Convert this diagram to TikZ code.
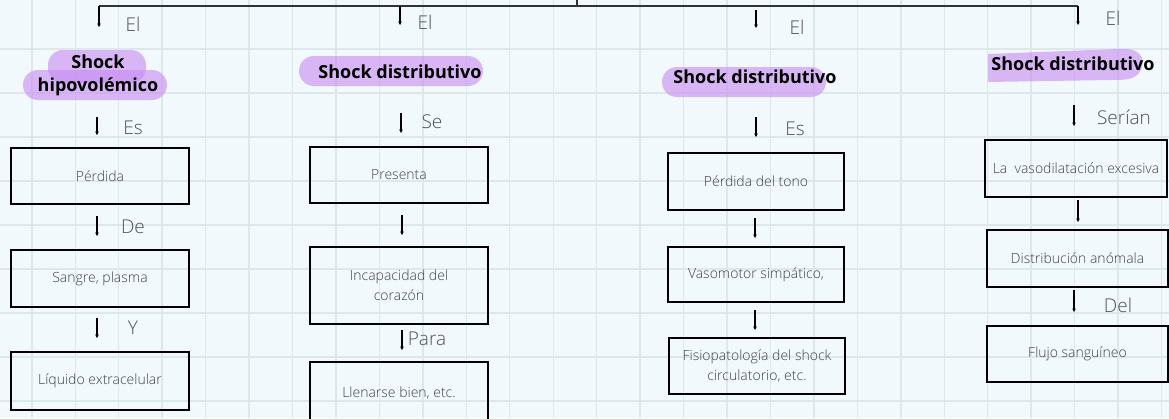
\documentclass[tikz,border=0pt]{standalone}
\usepackage{fontspec}
\setmainfont{Open Sans}[UprightFont=* Light, BoldFont=* Bold]
\usetikzlibrary{arrows.meta}
\definecolor{bg}{HTML}{F2F9FC}
\definecolor{gridc}{HTML}{DDE8ED}
\definecolor{hl}{HTML}{C98CF2}
\definecolor{txt}{HTML}{404040}
\definecolor{ltxt}{HTML}{505050}
\tikzset{
  boxn/.style={draw=black, line width=2.6pt, minimum width=178pt, minimum height=56pt, inner sep=2pt, align=center, text=txt, font=\fontsize{14}{20}\selectfont},
  lbl/.style={text=ltxt, font=\fontsize{19}{22}\selectfont, inner sep=0pt},
  head/.style={font=\fontsize{18}{23}\selectfont\bfseries, text=black, align=center, inner sep=0pt},
  arr/.style={line width=1.3pt, -{Stealth[length=3.5pt,width=3.5pt]}},
  hlfill/.style={fill=hl, fill opacity=0.62, draw=none},
  tline/.style={line width=1.3pt, draw=black!80}
}
\begin{document}
\begin{tikzpicture}[x=1pt,y=-1pt]
\useasboundingbox (0,0) rectangle (1169,418);
\fill[bg] (0,0) rectangle (1169,418);
\begin{scope}
\clip (0,0) rectangle (1169,418);
\foreach \i in {0,...,26} { \draw[gridc, line width=1.4pt] ({31.8+43.45*\i},0) -- ({31.8+43.45*\i},418); }
\foreach \j in {1,...,9} { \draw[gridc, line width=1.4pt] (0,{5+44*\j}) -- (1169,{5+44*\j}); }

% highlights
\fill[hlfill, rounded corners=15pt] (48,50) rectangle (146,83);
\fill[hlfill, rounded corners=15pt] (23,70) rectangle (167,100);
\fill[hlfill, rounded corners=15pt] (299,56) rectangle (483,86);
\fill[hlfill, rounded corners=15pt] (662,67) rectangle (826,97);
\fill[hlfill] (988,54) -- (1118,49) .. controls (1140,47) and (1146,58) .. (1141,70) .. controls (1136,80) and (1125,80) .. (1110,80) -- (988,82) -- cycle;

% headings
\node[head] (h1) at (98,75) {Shock\\hipovolémico};
\node[head] (h2) at (400,72) {Shock distributivo};
\node[head] (h3) at (755,77) {Shock distributivo};
\node[head] (h4) at (1073,64) {Shock distributivo};

% boxes column 1
\node[boxn] (b11) at (100,176) {Pérdida};
\node[boxn, minimum height=57pt] (b12) at (100,278.5) {Sangre, plasma};
\node[boxn, minimum height=58pt] (b13) at (100,381) {Líquido extracelular};
% column 2
\node[boxn] (b21) at (399,175) {Presenta};
\node[boxn, minimum height=77pt] (b22) at (399,285.5) {Incapacidad del\\corazón};
\node[boxn, minimum height=62pt] (b23) at (399,393) {Llenarse bien, etc.};
% column 3
\node[boxn, minimum width=176pt, minimum height=57pt] (b31) at (756,181.5) {Pérdida del tono};
\node[boxn, minimum width=176pt, minimum height=55pt] (b32) at (756,274.5) {Vasomotor simpático,};
\node[boxn, minimum width=176pt, minimum height=56pt] (b33) at (757,366) {Fisiopatología del shock\\circulatorio, etc.};
% column 4
\node[boxn, minimum width=182pt, minimum height=57pt] (b41) at (1076,168.5) {La~ vasodilatación excesiva};
\node[boxn, minimum width=181pt, minimum height=57pt] (b42) at (1077.5,258.5) {Distribución anómala};
\node[boxn, minimum width=181pt, minimum height=56pt] (b43) at (1077.5,354) {Flujo sanguíneo};

% labels
\node[lbl] (l11) at (133,24) {El};
\node[lbl] (l12) at (133,128) {Es};
\node[lbl] (l13) at (133,227) {De};
\node[lbl] (l14) at (133,328) {Y};
\node[lbl] (l21) at (425,22) {El};
\node[lbl] (l22) at (432,122) {Se};
\node[lbl] (l23) at (427,339) {Para};
\node[lbl] (l31) at (797,27) {El};
\node[lbl] (l32) at (795,129) {Es};
\node[lbl] (l41) at (1113,18) {El};
\node[lbl] (l42) at (1124,117) {Serían};
\node[lbl] (l43) at (1118,305) {Del};

% top connector
\coordinate (stub) at (577,0);
\coordinate (stubb) at (577,6);
\coordinate (tl) at (99,6);
\coordinate (tr) at (1078,6);
\coordinate (t2) at (400,6);
\draw[tline] (stub) -- (stubb);
\draw[tline] (tl) -- (tr);
\coordinate (e1) at (99,27);
\coordinate (e2) at (400,25);
\coordinate (e4) at (1078,25);
\draw[arr] (tl) -- (e1);
\draw[arr] (t2) -- (e2);
\draw[arr] (tr) -- (e4);
\coordinate (s3) at (756,10); \coordinate (e3) at (756,28);
\draw[arr] (s3) -- (e3);

% column arrows
\foreach \n/\x/\ya/\yb in {a12/97/117/135, a13/97/216/236, a14/97/318/338,
  a22/401/113/133, a23/402/215/235, a24/402/330/350,
  a32/756/117/137, a33/755/218/238, a34/755/310/330,
  a42/1074/105/126, a43/1078/200/222, a44/1074/290/312} {
  \coordinate (\n s) at (\x,\ya);
  \coordinate (\n e) at (\x,\yb);
  \draw[arr] (\n s) -- (\n e);
}
\end{scope}
\end{tikzpicture}
\end{document}
